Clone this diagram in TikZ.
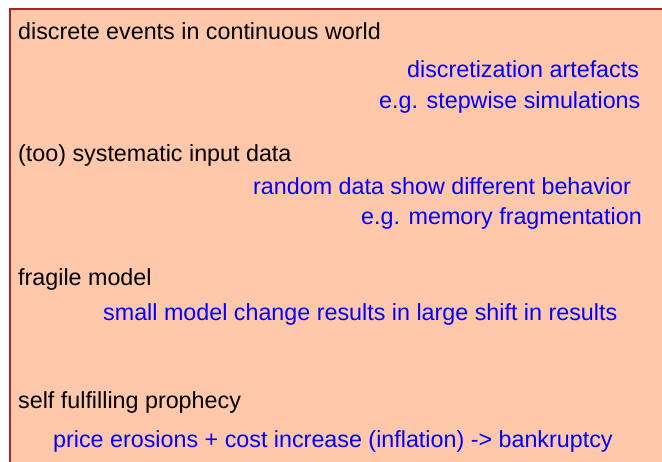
\documentclass[tikz,border=0pt]{standalone}
\usepackage{fontspec}
\setmainfont{Liberation Sans}
\definecolor{peach}{RGB}{255,200,170}
\definecolor{boxborder}{RGB}{170,35,30}
\definecolor{bluetext}{RGB}{0,0,255}
\begin{document}
\begin{tikzpicture}[x=1pt,y=-1pt,
  txt/.style={inner sep=0pt, anchor=base west, font=\fontsize{23.3}{28}\selectfont},
  head/.style={txt, text=black},
  note/.style={txt, text=bluetext}]
\useasboundingbox (0,0) rectangle (662,461);
\clip (0,0) rectangle (662,461);
\draw[fill=peach, draw=boxborder, line width=1.6pt] (10,9) rectangle (680,480);
\node[head] (h1) at (18,39) {discrete events in continuous world};
\node[note] (n1a) at (407,77) {discretization artefacts};
\node[note] (n1b) at (379,108) {e.g. stepwise simulations};
\node[head] (h2) at (18,161) {(too) systematic input data};
\node[note] (n2a) at (253,194) {random data show different behavior};
\node[note] (n2b) at (361,224) {e.g. memory fragmentation};
\node[head] (h3) at (18,285) {fragile model};
\node[note] (n3a) at (103,320) {small model change results in large shift in results};
\node[head] (h4) at (18,408) {self fulfilling prophecy};
\node[note] (n4a) at (53,447) {price erosions + cost increase (inflation) -> bankruptcy};
\end{tikzpicture}
\end{document}
